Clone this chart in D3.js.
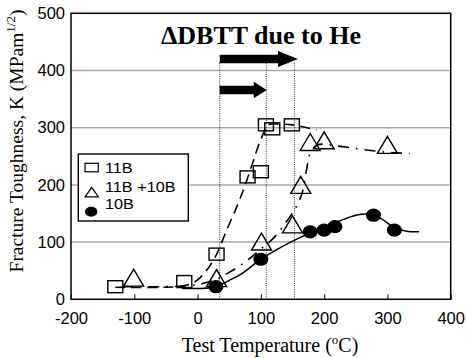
<!DOCTYPE html>
<html><head><meta charset="utf-8">
<script src="https://cdn.jsdelivr.net/npm/d3@7/dist/d3.min.js"></script>
<style>body{margin:0;background:#fff}svg{display:block}</style>
</head><body><svg id="c" width="466" height="358"></svg>
<script>
// ---- data ----
const xTicks = [-200,-100,0,100,200,300,400];
const yTicks = [0,100,200,300,400,500];
const gridVals = [100,200,300,400];

// measured points
const b11X = [-130,-21,30,79,100,108,118,149];
const b11Y = [22,31,79,214,223,305,298,305];
const mixX = [-101,30,101,150,163,178,200,300];
const mixY = [35,34,98,128,197,272,275,267];
const b10X = [29,100,178,200,217,278,311];
const b10Y = [22,70,118,121,127,147,121];

// fitted trend curves
const fit11X = [-130,-60,-25,-5,10,27,46,65,80,95,104,111,130,150,188];
const fit11Y = [21,21,23,30,45,72,121,170,215,265,290,305,306,305,296];
const fitMixX = [-120,-60,-10,10,30,50,75,100,120,140,155,165,172,178,190,220,260,300,335];
const fitMixY = [22,22,24,28,35,47,65,88,107,135,160,185,225,255,270,268,262,257,255];
const fit10X = [-25,0,20,35,50,70,100,130,160,190,220,250,270,290,310,330,350];
const fit10Y = [19,19,20,25,33,45,70,90,107,122,135,147,149,141,126,119,118];

// ΔDBTT markers
const dbttLines = [35,108.6,153];
const arrowFrom = [35,35];
const arrowTo = [158.7,109.3];
const arrowAt = [420,366];

const legendLabels = ["11B","11B +10B","10B"];

// ---- drawing ----
const SANS = "'Liberation Sans', Arial, sans-serif";
const SERIF = "'Liberation Serif', 'Times New Roman', serif";
const svg = d3.select("#c");
const L=71, R=450.7, T=13.3, B=299.3;
const x = d3.scaleLinear().domain([-200,400]).range([L,R]);
const y = d3.scaleLinear().domain([0,500]).range([B,T]);

// grid
svg.append("g").selectAll("line").data(gridVals).join("line")
  .attr("x1",L).attr("x2",R).attr("y1",d=>y(d)).attr("y2",d=>y(d))
  .attr("stroke","#a8a8a8").attr("stroke-width",1.5);

// dotted verticals
svg.append("g").selectAll("line").data(dbttLines).join("line")
  .attr("x1",d=>x(d)).attr("x2",d=>x(d)).attr("y1",y(0)).attr("y2",y(415))
  .attr("stroke","#000").attr("stroke-width",0.8).attr("stroke-dasharray","1,1.2");

// axes
const xa = svg.append("g").attr("transform",`translate(0,${B})`)
  .call(d3.axisBottom(x).tickValues(xTicks).tickFormat(d=>String(d))
    .tickSizeInner(-5).tickSizeOuter(0).tickPadding(12.5));
xa.select(".domain").remove();
xa.selectAll("line").attr("stroke","#000").attr("stroke-width",1);
xa.selectAll("text").attr("font-family",SANS).style("font-size","16.5px").attr("fill","#000");

const ya = svg.append("g").attr("transform",`translate(${L},0)`)
  .call(d3.axisLeft(y).tickValues(yTicks).tickFormat(d=>String(d)).tickSize(0).tickPadding(6));
ya.select(".domain").remove();
ya.selectAll("text").attr("font-family",SANS).style("font-size","16.5px").attr("fill","#000");

// frame
svg.append("rect").attr("x",L).attr("y",T).attr("width",R-L).attr("height",B-T)
  .attr("fill","none").attr("stroke","#000").attr("stroke-width",1.5);

// curves
const line = d3.line().x(d=>x(d[0])).y(d=>y(d[1])).curve(d3.curveCatmullRom.alpha(0.5));
const zip = (a,b)=>a.map((v,i)=>[v,b[i]]);
svg.append("path").attr("d",line(zip(fit11X,fit11Y))).attr("fill","none").attr("stroke","#000")
  .attr("stroke-width",1.6).attr("stroke-dasharray","10,6");
svg.append("path").attr("d",line(zip(fitMixX,fitMixY))).attr("fill","none").attr("stroke","#000")
  .attr("stroke-width",1.6).attr("stroke-dasharray","11,7,1.6,7");
svg.append("path").attr("d",line(zip(fit10X,fit10Y))).attr("fill","none").attr("stroke","#000")
  .attr("stroke-width",1.5);

// markers
svg.append("g").selectAll("rect").data(zip(b11X,b11Y)).join("rect")
  .attr("x",d=>x(d[0])-7.5).attr("y",d=>y(d[1])-6).attr("width",15).attr("height",12)
  .attr("fill","none").attr("stroke","#000").attr("stroke-width",1.4);
const tri = (cx,cy,w,h)=>`M${cx},${cy-h*0.6}L${cx+w/2},${cy+h*0.4}L${cx-w/2},${cy+h*0.4}Z`;
svg.append("g").selectAll("path").data(zip(mixX,mixY)).join("path")
  .attr("d",d=>tri(x(d[0]),y(d[1]),20,17))
  .attr("fill","none").attr("stroke","#000").attr("stroke-width",1.4);
svg.append("g").selectAll("ellipse").data(zip(b10X,b10Y)).join("ellipse")
  .attr("cx",d=>x(d[0])).attr("cy",d=>y(d[1])).attr("rx",7.5).attr("ry",6.6).attr("fill","#000");

// arrows
arrowFrom.forEach((a,i)=>{
  const x0=x(a), x1=x(arrowTo[i]), yc=y(arrowAt[i]);
  const hl = i===0?20:13, hh = i===0?8:8.3, sh=4.3;
  svg.append("path").attr("d",
    `M${x0},${yc-sh}L${x1-hl},${yc-sh}L${x1-hl},${yc-hh}L${x1},${yc}L${x1-hl},${yc+hh}L${x1-hl},${yc+sh}L${x0},${yc+sh}Z`)
    .attr("fill","#000");
});

// title
svg.append("text").attr("x",261).attr("y",44).attr("text-anchor","middle")
  .style("font-family",SERIF).attr("font-weight","bold")
  .attr("font-size",26).text("ΔDBTT due to He");

// axis titles
const xt = svg.append("text").attr("x",270).attr("y",351.5).attr("text-anchor","middle")
  .style("font-family",SERIF).attr("font-size",20);
xt.append("tspan").text("Test Temperature (");
xt.append("tspan").attr("font-size",13).attr("dy",-8).text("o");
xt.append("tspan").attr("dy",8).text("C)");

const yt = svg.append("text").attr("transform","translate(23,141) rotate(-90)").attr("text-anchor","middle")
  .style("font-family",SERIF).attr("font-size",19.5);
yt.append("tspan").text("Fracture Toughness, K (MPam");
yt.append("tspan").attr("font-size",13).attr("dy",-8).text("1/2");
yt.append("tspan").attr("dy",8).text(")");

// legend
const lg = svg.append("g");
lg.append("rect").attr("x",78.3).attr("y",154).attr("width",110).attr("height",67)
  .attr("fill","#fff").attr("stroke","#000").attr("stroke-width",1.4);
lg.append("rect").attr("x",85).attr("y",163.3).attr("width",13.3).attr("height",8.5)
  .attr("fill","none").attr("stroke","#000").attr("stroke-width",1.2);
lg.append("path").attr("d",tri(91.7,193,13.3,9.5)).attr("fill","none").attr("stroke","#000").attr("stroke-width",1.2);
lg.append("ellipse").attr("cx",91.2).attr("cy",211.7).attr("rx",6.2).attr("ry",5).attr("fill","#000");
const lgY = [172.7,191.7,209.3];
const lgX = [105,105,105];
lg.selectAll("text.l").data(legendLabels).join("text").attr("class","l")
  .attr("transform",(d,i)=>`translate(${lgX[i]},${lgY[i]}) scale(1.12,1)`)
  .style("font-family",SANS).attr("font-size",14.5).text(d=>d);
</script></body></html>
